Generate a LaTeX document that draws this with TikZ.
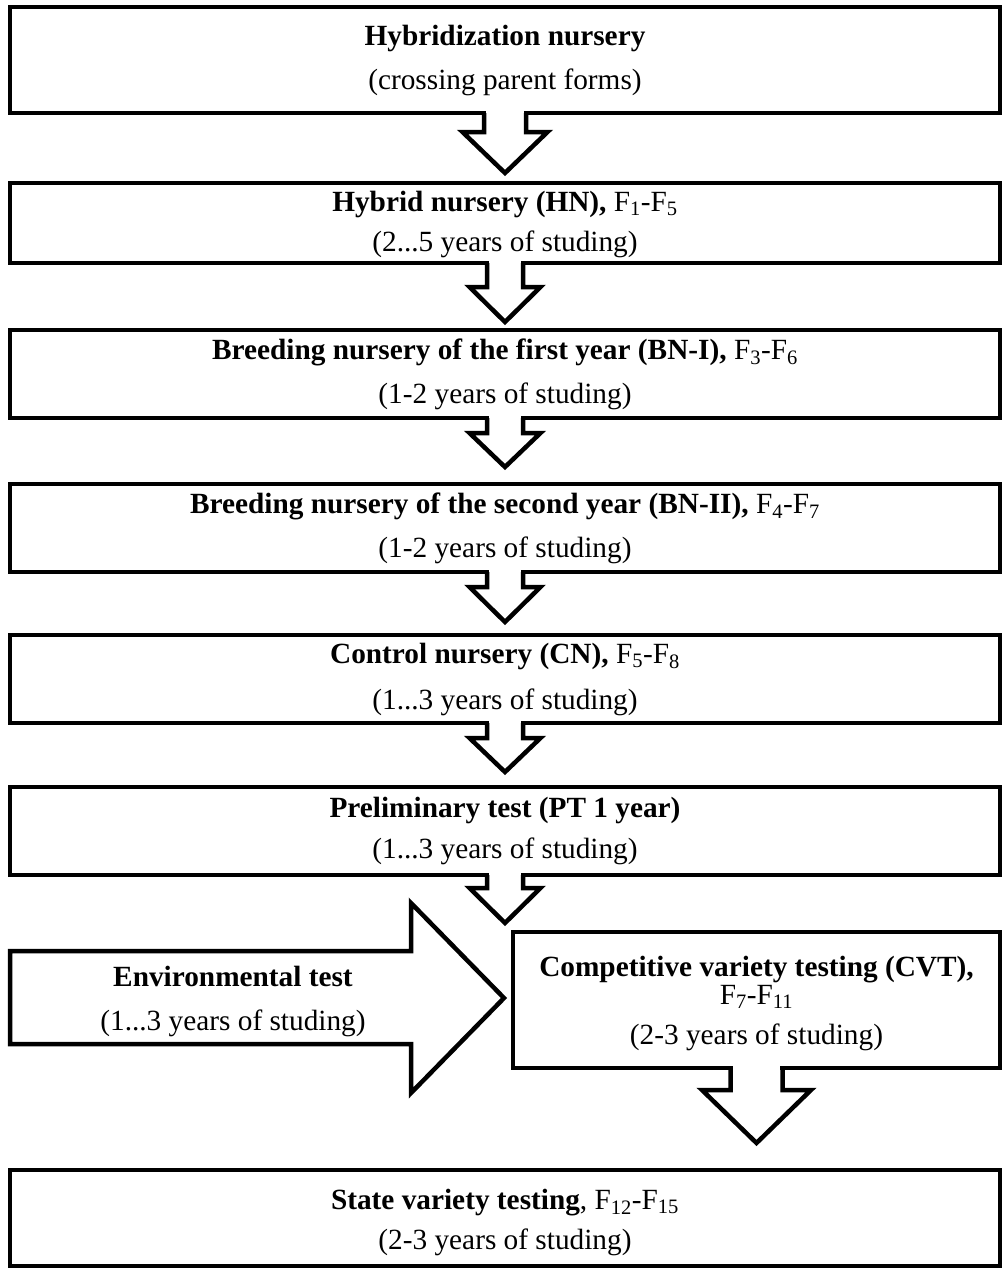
\documentclass[tikz,border=0pt]{standalone}
\usepackage{fontspec}
\setmainfont{Liberation Serif}
\usetikzlibrary{calc}
\tikzset{
  stage/.style={draw, line width=4.5pt, inner sep=0pt, outer sep=0pt},
  stagetext/.style={inner sep=0pt, align=center, font=\fontsize{29.3}{#1}\selectfont},
  stagetext/.default=44,
  flowline/.style={line width=4.5pt, line join=miter},
}
% Hollow block arrow leaving the bottom edge of #1 and pointing at the top of #2.
% #3 stem half width, #4 head half width, #5 head depth, #6 gap above #2
\newcommand\flowarrow[6]{%
  \fill[white] let \p1=(#1.south) in
    (\x1-#3pt+2.25pt,\y1+3pt) rectangle (\x1+#3pt-2.25pt,\y1-3pt);
  \draw[flowline] let \p1=(#1.south), \p2=(#2.north) in
    (\x1-#3pt,\y1) -- (\x1-#3pt,\y2+#6pt+#5pt) -- (\x1-#4pt,\y2+#6pt+#5pt)
    -- (\x1,\y2+#6pt)
    -- (\x1+#4pt,\y2+#6pt+#5pt) -- (\x1+#3pt,\y2+#6pt+#5pt) -- (\x1+#3pt,\y1);
}
\begin{document}
\begin{tikzpicture}[x=1pt,y=-1pt]
\useasboundingbox (0,0) rectangle (1002,1269);

% stage frames
\node[stage, minimum width=990pt, minimum height=106pt] (hyb) at (505,60) {};
\node[stage, minimum width=990pt, minimum height=80pt]  (hn)  at (505,223) {};
\node[stage, minimum width=990pt, minimum height=88pt]  (bn1) at (505,374) {};
\node[stage, minimum width=990pt, minimum height=88pt]  (bn2) at (505,528) {};
\node[stage, minimum width=990pt, minimum height=88pt]  (cn)  at (505,679) {};
\node[stage, minimum width=990pt, minimum height=88pt]  (pt)  at (505,831) {};
\node[stage, minimum width=487pt, minimum height=136pt] (cvt) at (756.5,1000) {};
\node[stage, minimum width=990pt, minimum height=96pt]  (svt) at (505,1218) {};

% stage captions
\node[stagetext] (hyb-t) at (hyb)
  {\textbf{Hybridization nursery}\\(crossing parent forms)};
\node[stagetext=40, yshift=-1pt] (hn-t) at (hn)
  {\textbf{Hybrid nursery (HN),} F\textsubscript{1}-F\textsubscript{5}\\(2...5 years of studing)};
\node[stagetext] (bn1-t) at (bn1)
  {\textbf{Breeding nursery of the first year (BN-I),} F\textsubscript{3}-F\textsubscript{6}\\(1-2 years of studing)};
\node[stagetext] (bn2-t) at (bn2)
  {\textbf{Breeding nursery of the second year (BN-II),} F\textsubscript{4}-F\textsubscript{7}\\(1-2 years of studing)};
\node[stagetext=46] (cn-t) at (cn)
  {\textbf{Control nursery (CN),} F\textsubscript{5}-F\textsubscript{8}\\(1...3 years of studing)};
\node[stagetext=41] (pt-t) at (pt)
  {\textbf{Preliminary test (PT 1 year)}\\(1...3 years of studing)};
\node[stagetext=40, yshift=-3pt] (cvt-t) at (cvt)
  {\textbf{Competitive variety testing (CVT),}\\[-12pt]F\textsubscript{7}-F\textsubscript{11}\\(2-3 years of studing)};
\node[stagetext=40, yshift=-4pt] (svt-t) at (svt)
  {\textbf{State variety testing}, F\textsubscript{12}-F\textsubscript{15}\\(2-3 years of studing)};

% environmental test: wide block arrow feeding the competitive testing stage
\draw[flowline] (10,951) -- (411,951) -- (411,903) -- (504,998) -- (411,1093)
  -- (411,1044) -- (10,1044) -- cycle;
\node[stagetext, yshift=-3pt] (env) at (233,998)
  {\textbf{Environmental test}\\(1...3 years of studing)};

% flow between the stages
\flowarrow{hyb}{hn}{21}{42.5}{41}{10}
\flowarrow{hn}{bn1}{18}{35.5}{35}{8}
\flowarrow{bn1}{bn2}{18}{35.5}{34}{17}
\flowarrow{bn2}{cn}{18}{35.5}{35}{13}
\flowarrow{cn}{pt}{18}{35.5}{34}{15}
\flowarrow{pt}{cvt}{18}{35.5}{35}{9}
\flowarrow{cvt}{svt}{26}{54.5}{53}{27}
\end{tikzpicture}
\end{document}
